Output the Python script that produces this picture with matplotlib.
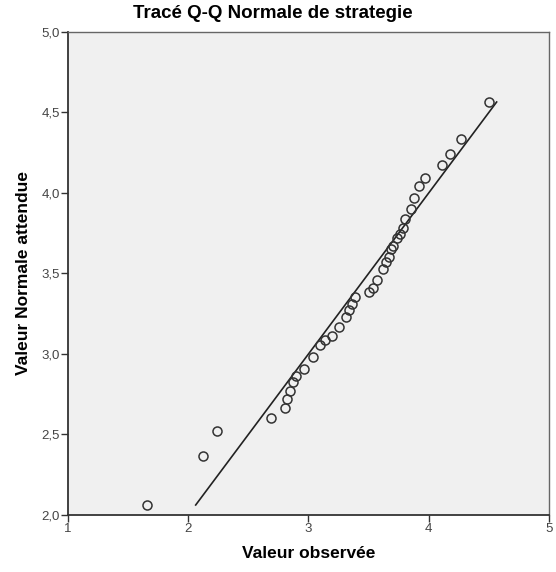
import matplotlib
matplotlib.use("Agg")
import matplotlib.pyplot as plt
import numpy as np

# Valeurs observées (x) et valeurs normales attendues (y)
observed = [1.657, 2.123, 2.239, 2.688, 2.805, 2.82, 2.846, 2.87, 2.90, 2.96,
            3.04, 3.10, 3.14, 3.195, 3.25, 3.31, 3.335, 3.36, 3.39, 3.50,
            3.536, 3.57, 3.62, 3.645, 3.67, 3.686, 3.70, 3.736, 3.76, 3.786,
            3.80, 3.85, 3.877, 3.92, 3.97, 4.11, 4.18, 4.27, 4.50]
expected = [2.062, 2.368, 2.522, 2.602, 2.665, 2.72, 2.77, 2.826, 2.863, 2.907,
            2.98, 3.056, 3.087, 3.112, 3.168, 3.23, 3.273, 3.31, 3.354, 3.385,
            3.41, 3.46, 3.528, 3.57, 3.60, 3.652, 3.67, 3.72, 3.745, 3.783,
            3.84, 3.90, 3.969, 4.043, 4.093, 4.174, 4.242, 4.335, 4.565]

x_ticks = [1, 2, 3, 4, 5]
y_ticks = [2.0, 2.5, 3.0, 3.5, 4.0, 4.5, 5.0]

plt.rcParams["font.family"] = ["Liberation Sans", "DejaVu Sans"]

fig = plt.figure(figsize=(5.56, 5.72), dpi=100)
ax = fig.add_axes([0.1223, 0.0997, 0.865, 0.8444])
ax.set_facecolor("#f0f0f0")

# Droite de référence y = x
line_lo, line_hi = min(expected), max(expected)
ax.plot([line_lo, line_hi], [line_lo, line_hi], color="#222222", linewidth=1.2, zorder=2)

ax.plot(observed, expected, linestyle="none", marker="o", markersize=6.5,
        markerfacecolor="none", markeredgecolor="#333333", markeredgewidth=1.1, zorder=3)

ax.set_xlim(1, 5)
ax.set_ylim(2, 5)
ax.set_xticks(x_ticks)
ax.set_xticklabels([str(t) for t in x_ticks])
ax.set_yticks(y_ticks)
ax.set_yticklabels([f"{t:.1f}".replace(".", ",") for t in y_ticks])
ax.tick_params(direction="out", length=5, width=1, colors="#333333",
               labelsize=9.5, labelcolor="#444444", pad=1)

for side in ["left", "bottom"]:
    ax.spines[side].set_color("#333333")
    ax.spines[side].set_linewidth(1.3)
for side in ["top", "right"]:
    ax.spines[side].set_color("#666666")
    ax.spines[side].set_linewidth(1.0)

ax.set_xlabel("Valeur observée", fontsize=12.5, fontweight="bold")
ax.set_ylabel("Valeur Normale attendue", fontsize=12.5, fontweight="bold")
ax.yaxis.set_label_coords(-0.077, 0.5)
ax.xaxis.set_label_coords(0.5, -0.064)
fig.text(0.49, 1 - 13 / 572, "Tracé Q-Q Normale de strategie", fontsize=13.5,
         fontweight="bold", ha="center", va="center")

fig.savefig("out.png", dpi=100)
